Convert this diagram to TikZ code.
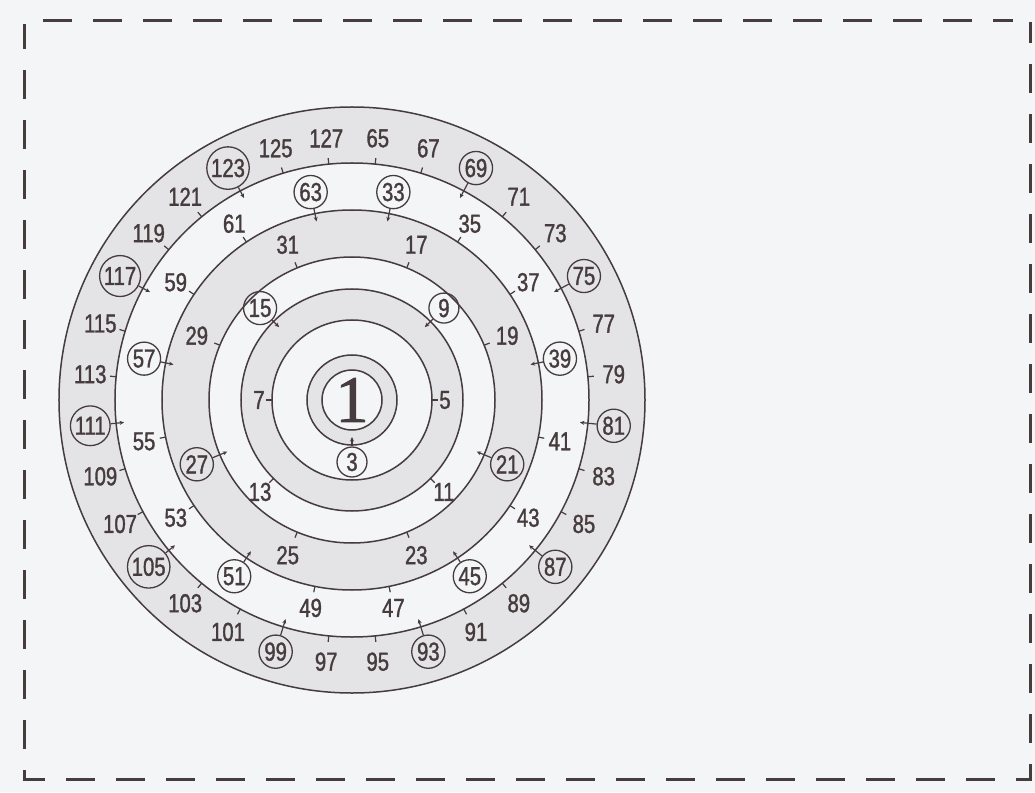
\documentclass[tikz,border=0pt]{standalone}
\usepackage{fontspec}
\usetikzlibrary{arrows.meta}
\newfontfamily\numfont{Liberation Sans}[FakeStretch=0.78, FakeBold=1.3]
\newfontfamily\onefont{Liberation Serif}[FakeBold=1.5]
\definecolor{ink}{HTML}{463C3D}
\definecolor{paper}{HTML}{F4F5F7}
\definecolor{band}{HTML}{E4E3E6}

\begin{document}
\begin{tikzpicture}[
  x=1pt, y=1pt,
  ring/.style={draw=ink, line width=1.5pt},
  num/.style={text=ink, inner sep=1pt, font=\numfont\fontsize{26}{26}\selectfont},
  cnum/.style={num, circle, draw=ink, line width=1.3pt, minimum size=30pt, inner sep=1.5pt},
  tick/.style={draw=ink, line width=1.2pt},
  pointer/.style={draw=ink, line width=1.2pt, -{Stealth[length=4.5pt, width=4pt]}},
  frame/.style={draw=ink, line width=3pt, dash pattern=on 29pt off 21pt}
]
  % page and cut line
  \fill[paper] (-352,-392) rectangle (683,400);
  \useasboundingbox (-352,-392) rectangle (683,400);
  \draw[frame] (-309,379) -- (661,379);
  \draw[frame, dash phase=4pt] (-327,376) -- (-327,-379) -- (678,-379) -- (678,378);

  % rings, from the outside in
  \foreach \r/\c in {293/band, 237/paper, 190/band, 143/paper, 111/band, 80/paper, 45/band, 30/paper}
    \filldraw[ring, fill=\c] (0,0) circle (\r);
  \node[text=ink, font=\onefont\fontsize{66}{66}\selectfont] (one) at (0,0) {1};

  % odd numbers, ring by ring
  \foreach \k/\R/\L in {1/45/62, 2/80/93, 3/111/130, 4/143/168, 5/190/212, 6/237/263} {
    \pgfmathtruncatemacro\cnt{2^(\k-1)}
    \pgfmathtruncatemacro\last{\cnt-1}
    \foreach \i in {0,...,\last} {
      \pgfmathtruncatemacro\num{2^\k+1+2*\i}
      \pgfmathsetmacro\ang{90-180/\cnt-360*\i/\cnt}
      \pgfmathtruncatemacro\rest{mod(\num,3)}
      \pgfmathsetmacro\rin{\R-8}
      \pgfmathsetmacro\rout{\R+6}
      \ifnum\rest=0
        \node[cnum] (n\num) at (\ang:\L) {\num};
        \coordinate (t\num) at (\ang:\rin);
        \draw[pointer] (n\num) -- (t\num);
      \else
        \node[num] (n\num) at (\ang:\L) {\num};
        \coordinate (t\num) at (\ang:\R);
        \coordinate (e\num) at (\ang:\rout);
        \draw[tick] (t\num) -- (e\num);
      \fi
    }
  }
\end{tikzpicture}
\end{document}
